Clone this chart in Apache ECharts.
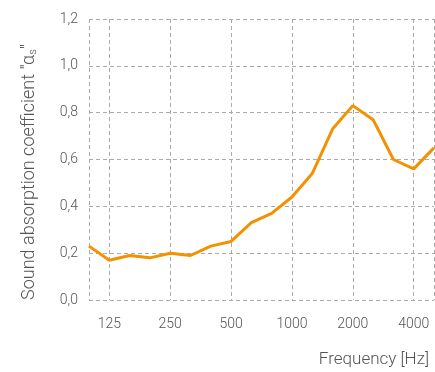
<!DOCTYPE html>
<html><head><meta charset="utf-8">
<script src="https://cdn.jsdelivr.net/npm/echarts@6/dist/echarts.min.js"></script>
<style>html,body{margin:0;padding:0;background:#fff}#c{width:435px;height:372px}</style>
</head><body><div id="c"></div>
<script>
const frequencies = ['100','125','160','200','250','315','400','500','630','800','1000','1250','1600','2000','2500','3150','4000','5000'];
const absorption = [0.23,0.17,0.19,0.18,0.20,0.19,0.23,0.25,0.33,0.37,0.44,0.54,0.73,0.83,0.77,0.60,0.56,0.65];
const labeledFreqs = ['125','250','500','1000','2000','4000'];
const yTicks = [0,0.2,0.4,0.6,0.8,1.0,1.2];

const chart = echarts.init(document.getElementById('c'), null, {renderer:'canvas'});
const font = 'Roboto';
const gridLine = {show:true, lineStyle:{color:'#aaaaaa', type:[4,3], width:1}};
chart.setOption({
  animation:false,
  grid:{left:89, right:1, top:19, bottom:72},
  xAxis:{
    type:'category', data:frequencies, boundaryGap:false,
    axisLine:{show:false}, axisTick:{show:false},
    axisLabel:{color:'#555', fontFamily:font, fontWeight:300, fontSize:14, margin:17,
      interval:(i,v)=>labeledFreqs.includes(v)},
    splitLine:Object.assign({}, gridLine, {interval:(i,v)=>labeledFreqs.includes(v)||i===0||i===frequencies.length-1})
  },
  yAxis:{
    type:'value', min:yTicks[0], max:yTicks[yTicks.length-1], interval:0.2,
    axisLine:{show:false}, axisTick:{show:false},
    axisLabel:{color:'#555', fontFamily:font, fontWeight:300, fontSize:14, margin:11,
      formatter:v=>v.toFixed(1).replace('.',',')},
    splitLine:gridLine
  },
  graphic:[
    {type:'text', x:429, y:360, style:{text:'Frequency [Hz]', fill:'#555', font:'300 17px Roboto', align:'right', verticalAlign:'middle'}},
    {type:'text', x:29, y:172, rotation:Math.PI/2,
      style:{text:'{a|Sound absorption coefficient "α}{s|s}{a|"}', align:'center', verticalAlign:'middle',
        rich:{a:{fill:'#555', fontFamily:font, fontWeight:300, fontSize:18}, s:{fill:'#555', fontFamily:font, fontWeight:300, fontSize:11, verticalAlign:'bottom', padding:[8,0,0,0]}}}}
  ],
  series:[{
    type:'line', data:absorption, symbol:'none',
    lineStyle:{color:'#F39200', width:3}
  }]
});
</script></body></html>
